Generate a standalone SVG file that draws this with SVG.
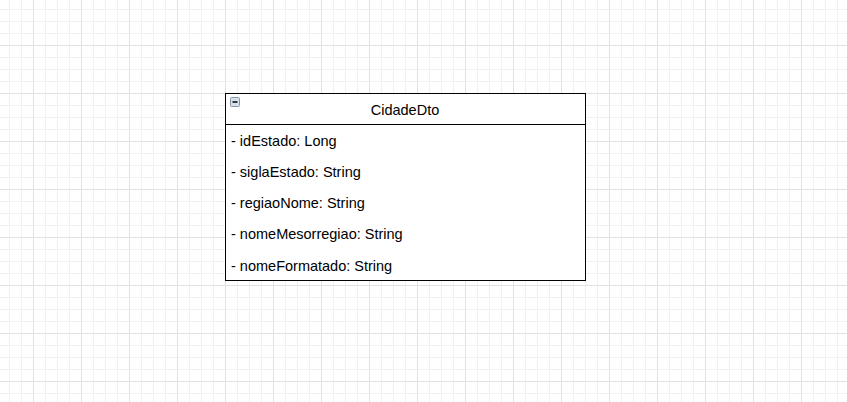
<svg xmlns="http://www.w3.org/2000/svg" width="847" height="402" viewBox="0 0 847 402">
<defs>
<pattern id="minor" width="12" height="12" patternUnits="userSpaceOnUse" x="9" y="9">
<path d="M0.5 0V12M0 0.5H12" fill="none" stroke="#f1f1f1" stroke-width="1"/>
</pattern>
<pattern id="major" width="48" height="48" patternUnits="userSpaceOnUse" x="33" y="45">
<path d="M0.5 0V48M0 0.5H48" fill="none" stroke="#e2e2e2" stroke-width="1"/>
</pattern>
</defs>
<style>
.t{font-family:"Liberation Sans",Arial,sans-serif;font-size:14.5px;fill:#000}
.box{fill:#fff;stroke:#000;stroke-width:1}
</style>
<rect width="847" height="402" fill="#fff"/>
<rect width="847" height="402" fill="url(#minor)"/>
<rect width="847" height="402" fill="url(#major)"/>
<g id="CidadeDto">
<rect class="box" x="225.5" y="93.5" width="360" height="187"/>
<line x1="225.5" y1="124.5" x2="585.5" y2="124.5" stroke="#000"/>
<rect x="230.5" y="97.5" width="9" height="9" rx="1" fill="#d6dfea" stroke="#8796a8"/>
<line x1="232.5" y1="102" x2="237.5" y2="102" stroke="#000" stroke-width="1.5"/>
<text class="t" x="405" y="114.5" text-anchor="middle">CidadeDto</text>
<text class="t" x="231" y="146">- idEstado: Long</text>
<text class="t" x="231" y="177">- siglaEstado: String</text>
<text class="t" x="231" y="208">- regiaoNome: String</text>
<text class="t" x="231" y="239">- nomeMesorregiao: String</text>
<text class="t" x="231" y="271">- nomeFormatado: String</text>
</g>
<g id="connectors"/>
</svg>
